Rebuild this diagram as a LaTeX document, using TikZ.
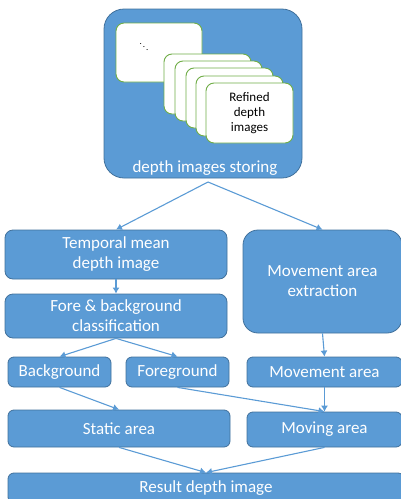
\documentclass[tikz,border=0pt]{standalone}
\usepackage{fontspec}
\setmainfont{Carlito}
\usetikzlibrary{arrows.meta}
\definecolor{boxfill}{HTML}{5B9BD5}
\definecolor{boxedge}{HTML}{41719C}
\definecolor{imgedge}{HTML}{70AD47}
\begin{document}
\begin{tikzpicture}[x=1pt,y=-1pt,
  bluebox/.style={draw=boxedge,fill=boxfill,line width=0.8pt,rounded corners=8pt,
    inner sep=0pt,text=white,font=\fontsize{17}{20}\selectfont,align=center},
  imgbox/.style={draw=imgedge,fill=white,line width=0.9pt,rounded corners=8pt,
    inner sep=0pt,minimum width=87pt,minimum height=60pt,align=center,
    font=\fontsize{13}{15}\selectfont},
  conn/.style={draw=boxfill,line width=1.1pt,-{Latex[length=6pt,width=7pt]}}]
\useasboundingbox (0,0) rectangle (400,499);
% storage
\node[bluebox,rounded corners=20pt,minimum width=198pt,minimum height=169pt] (store) at (203,93.5) {};
\node[imgbox,minimum width=86pt,minimum height=59pt] (img0) at (159,52.5) {};
\node[inner sep=0pt,font=\small] (dots) at (144,44) {$\ddots$};
\node[imgbox] (img1) at (207.5,84) {};
\node[imgbox] (img2) at (218.5,91) {};
\node[imgbox] (img3) at (229.5,98) {};
\node[imgbox] (img4) at (239.5,106) {};
\node[imgbox] (img5) at (249.5,113) {Refined\\depth\\images};
\node[text=white,font=\fontsize{17}{20}\selectfont,inner sep=0pt] (storetxt) at (205,168) {depth images storing};
\coordinate (apex) at (208,182);
% left column
\node[bluebox,minimum width=222pt,minimum height=49pt] (temporal) at (116,254.5) {Temporal mean\\depth image};
\node[bluebox,minimum width=222pt,minimum height=44pt] (fore) at (116,316) {Fore \& background\\classification};
\node[bluebox,rounded corners=6pt,minimum width=103pt,minimum height=30pt] (bg) at (59.5,372) {Background};
\node[bluebox,rounded corners=6pt,minimum width=103pt,minimum height=30pt] (fg) at (177.5,372) {Foreground};
\node[bluebox,rounded corners=6pt,minimum width=222pt,minimum height=37pt] (static) at (119,428.5) {Static area};
% right column
\node[bluebox,rounded corners=15pt,minimum width=159pt,minimum height=103pt] (movext) at (322.5,281.5) {Movement area\\extraction};
\node[bluebox,rounded corners=6pt,minimum width=155pt,minimum height=30pt] (movarea) at (324.5,372) {Movement area};
\node[bluebox,rounded corners=6pt,minimum width=155pt,minimum height=35pt] (moving) at (324.5,429.5) {Moving area};
% result
\node[bluebox,rounded corners=6pt,minimum width=396pt,minimum height=30pt] (result) at (206,488) {Result depth image};
% connectors
\draw[conn] (apex) -- (temporal.north);
\draw[conn] (apex) -- (movext.north);
\draw[conn] (temporal.south) -- (fore.north);
\draw[conn] (fore.south) -- (bg.north);
\draw[conn] (fore.south) -- (fg.north);
\draw[conn] (movext.south) -- (movarea.north);
\draw[conn] (bg.south) -- (static.north);
\draw[conn] (fg.south) -- (moving.north);
\draw[conn] (movarea.south) -- (moving.north);
\draw[conn] (static.south) -- (result.north);
\draw[conn] (moving.south) -- (result.north);
\end{tikzpicture}
\end{document}
